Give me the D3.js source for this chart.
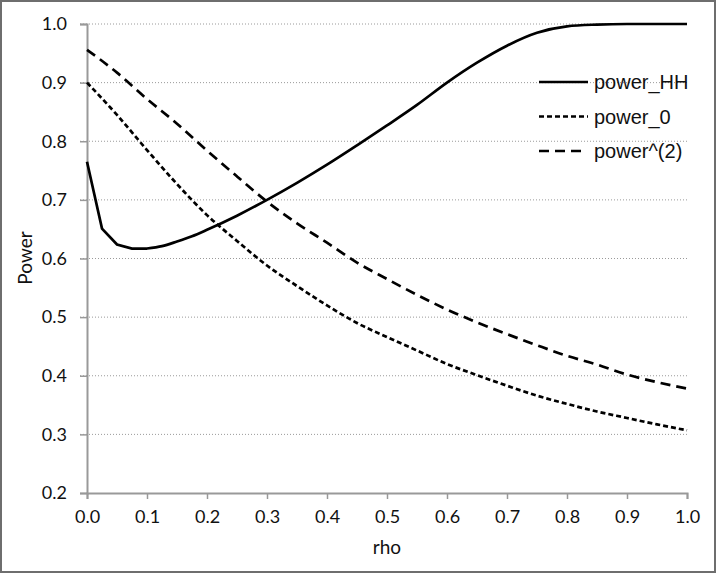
<!DOCTYPE html>
<html>
<head>
<meta charset="utf-8">
<script src="https://cdn.jsdelivr.net/npm/d3@7"></script>
<style>
  body { margin: 0; background: #fff; }
  svg { display: block; }
</style>
</head>
<body>
<div id="chart"></div>
<script>
// rho grid for power_0 and power^(2)
const rho = [0, 0.05, 0.1, 0.15, 0.2, 0.25, 0.3, 0.35, 0.4, 0.45, 0.5,
  0.55, 0.6, 0.65, 0.7, 0.75, 0.8, 0.85, 0.9, 0.95, 1.0];
const power0 = [0.900, 0.845, 0.785, 0.727, 0.674, 0.630, 0.588, 0.553, 0.520, 0.490, 0.466,
  0.443, 0.420, 0.401, 0.383, 0.366, 0.352, 0.339, 0.328, 0.317, 0.307];
const power2 = [0.956, 0.917, 0.872, 0.830, 0.784, 0.740, 0.697, 0.660, 0.627, 0.593, 0.565,
  0.538, 0.513, 0.491, 0.471, 0.452, 0.434, 0.419, 0.402, 0.389, 0.378];

// power_HH is sampled finer near zero
const rhoHH = [0, 0.025, 0.05, 0.075, 0.1, 0.125, 0.15, 0.175, 0.2, 0.25, 0.3, 0.35, 0.4,
  0.45, 0.5, 0.55, 0.6, 0.65, 0.7, 0.75, 0.8, 0.85, 0.9, 0.95, 1.0];
const powerHH = [0.765, 0.651, 0.624, 0.617, 0.617, 0.621, 0.629, 0.638, 0.649, 0.673, 0.700,
  0.729, 0.760, 0.793, 0.827, 0.862, 0.900, 0.934, 0.963, 0.985, 0.996, 0.999, 1.0, 1.0, 1.0];

const xTicks = [0, 0.1, 0.2, 0.3, 0.4, 0.5, 0.6, 0.7, 0.8, 0.9, 1.0];
const yTicks = [0.2, 0.3, 0.4, 0.5, 0.6, 0.7, 0.8, 0.9, 1.0];

const series = [
  { name: "power_HH", xs: rhoHH, ys: powerHH, dash: null, legendLen: 49 },
  { name: "power_0", xs: rho, ys: power0, dash: "5,3", legendLen: 49 },
  { name: "power^(2)", xs: rho, ys: power2, dash: "10,6", legendLen: 42 },
];

const W = 716, H = 573;
const margin = { top: 24, right: 29, bottom: 80, left: 87 };
const width = W - margin.left - margin.right;
const height = H - margin.top - margin.bottom;

const svg = d3
  .select("#chart")
  .append("svg")
  .attr("width", W)
  .attr("height", H);

// outer frame
svg
  .append("rect")
  .attr("x", 1)
  .attr("y", 1)
  .attr("width", W - 2)
  .attr("height", H - 2)
  .attr("fill", "#fff")
  .attr("stroke", "#6e6e6e")
  .attr("stroke-width", 2);

const g = svg.append("g").attr("transform", `translate(${margin.left},${margin.top})`);

const x = d3.scaleLinear().domain([0, 1]).range([0, width]);
const y = d3.scaleLinear().domain([0.2, 1]).range([height, 0]);

const tickFont = "Lato, 'Open Sans', sans-serif";
const legendFont = "'Liberation Sans', Arial, sans-serif";

// grid lines (dotted)
g.append("g")
  .selectAll("line")
  .data(yTicks.slice(1))
  .join("line")
  .attr("x1", -7)
  .attr("x2", width)
  .attr("y1", (d) => y(d))
  .attr("y2", (d) => y(d))
  .attr("stroke", "#9a9a9a")
  .attr("stroke-width", 1)
  .attr("stroke-dasharray", "1,2");

// Y axis
const yAxis = g
  .append("g")
  .call(d3.axisLeft(y).tickValues(yTicks).tickFormat(d3.format(".1f")).tickSize(7).tickPadding(13));
yAxis.select(".domain").attr("stroke", "#999").attr("stroke-width", 2);
yAxis.selectAll(".tick line").attr("stroke", "#999").attr("stroke-width", 1.5);
yAxis.selectAll("text")
  .attr("font-family", tickFont)
  .attr("font-size", "18px")
  .attr("fill", "#111");

// X axis
const xAxis = g
  .append("g")
  .attr("transform", `translate(0,${height})`)
  .call(d3.axisBottom(x).tickValues(xTicks).tickFormat(d3.format(".1f")).tickSize(6).tickPadding(11));
xAxis.select(".domain").attr("stroke", "#999").attr("stroke-width", 2);
xAxis.selectAll(".tick line").attr("stroke", "#999").attr("stroke-width", 1.5);
xAxis.selectAll("text")
  .attr("font-family", tickFont)
  .attr("font-size", "18px")
  .attr("fill", "#111");

// lines: straight segments for the sharp drop near zero, smooth elsewhere
const smooth = d3
  .line()
  .x((d) => x(d[0]))
  .y((d) => y(d[1]))
  .curve(d3.curveMonotoneX);
const straight = d3
  .line()
  .x((d) => x(d[0]))
  .y((d) => y(d[1]));

series.forEach((s) => {
  const pts = s.xs.map((v, i) => [v, s.ys[i]]);
  let path;
  if (s.name === "power_HH") {
    path = straight(pts.slice(0, 5)) + smooth(pts.slice(4)).replace(/^M/, "L");
  } else {
    path = smooth(pts);
  }
  g.append("path")
    .attr("fill", "none")
    .attr("stroke", "#000")
    .attr("stroke-width", 2.7)
    .attr("stroke-dasharray", s.dash)
    .attr("d", path);
});

// legend
const legend = svg.append("g").attr("transform", "translate(539,82)");
series.forEach((s, i) => {
  const row = legend.append("g").attr("transform", `translate(0,${i * 34.5})`);
  row.append("line")
    .attr("x1", 0)
    .attr("x2", s.legendLen)
    .attr("stroke", "#000")
    .attr("stroke-width", 2.7)
    .attr("stroke-dasharray", s.dash);
  row.append("text")
    .attr("x", 55)
    .attr("y", 7)
    .attr("font-family", legendFont)
    .attr("font-size", "20px")
    .attr("fill", "#111")
    .text(s.name);
});

// axis titles
svg.append("text")
  .attr("x", margin.left + width / 2)
  .attr("y", 554)
  .attr("text-anchor", "middle")
  .attr("font-family", tickFont)
  .attr("font-size", "19px")
  .attr("fill", "#111")
  .text("rho");

svg.append("text")
  .attr("transform", "translate(32,258) rotate(-90)")
  .attr("text-anchor", "middle")
  .attr("font-family", tickFont)
  .attr("font-size", "19px")
  .attr("fill", "#111")
  .text("Power");
</script>
</body>
</html>
